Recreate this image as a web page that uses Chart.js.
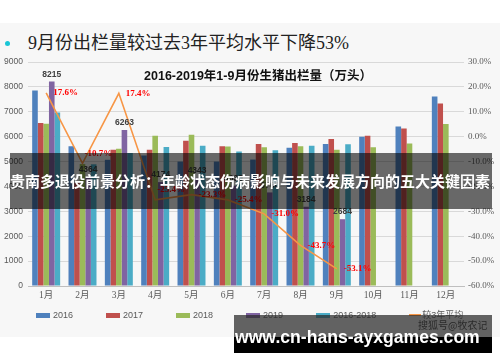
<!DOCTYPE html>
<html>
<head>
<meta charset="utf-8">
<script src="https://cdn.jsdelivr.net/npm/chart.js@4.4.1/dist/chart.umd.min.js"></script>
<style>
  body { margin: 0; width: 500px; height: 362px; overflow: hidden; background: #fff; position: relative; font-family: "Liberation Sans", "Noto Sans CJK SC", sans-serif; }
  .slide { position: absolute; left: 0; top: 23px; width: 500px; height: 314px; background: #f7f7f7; }
  .dot { position: absolute; left: 5px; top: 41px; width: 5px; height: 5px; border-radius: 50%; background: #19c6d6; }
  .head { position: absolute; left: 28px; top: 33px; font: 18px/20px "Liberation Serif", "Noto Sans CJK SC"; color: #222; white-space: nowrap; }
  .ctitle { position: absolute; left: 0; width: 516px; top: 68px; text-align: center; font: bold 12.5px/16px "Liberation Sans", "Noto Sans CJK SC"; color: #111; white-space: nowrap; }
  #chart { position: absolute; left: 0; top: 50px; }
  .legend { position: absolute; left: 36px; top: 309px; display: flex; font: 9px/12px "Liberation Sans", "Noto Sans CJK SC"; color: #595959; }
  .legend span.item { display: flex; align-items: center; margin-right: 33px; white-space: nowrap; }
  .legend i { display: inline-block; width: 14px; height: 5px; margin-right: 3px; }
  .legend i.ln { width: 12px; height: 2px; margin-right: 1px; }
  .band { position: absolute; left: 10px; top: 153px; width: 482px; height: 56px; background: rgba(0,0,0,0.58); color: #fff; font: bold 15px/56px "Noto Sans CJK SC"; white-space: nowrap; z-index: 5; }
  .wm1 { position: absolute; left: 234px; top: 315px; width: 258px; height: 22px; background: rgba(40,40,40,0.72); z-index: 5; }
  .wm2 { position: absolute; left: 234px; top: 337px; width: 258px; height: 16px; background: #000; z-index: 5; }
  .wmtxt { position: absolute; left: 235px; top: 327px; font: bold 17.6px/20px "Liberation Sans", sans-serif; color: #fff; z-index: 6; white-space: nowrap; }
  .sohu { position: absolute; left: 418px; top: 318px; font: 10px/14px "Noto Sans CJK SC"; color: rgba(20,20,20,0.75); z-index: 6; white-space: nowrap; }
</style>
</head>
<body>
<div class="slide"></div>
<div class="dot"></div>
<div class="head">9月份出栏量较过去3年平均水平下降53%</div>
<canvas id="chart" width="500" height="265"></canvas>
<div class="ctitle">2016-2019年1-9月份生猪出栏量（万头）</div>
<div class="legend" id="legend"></div>
<div class="band">贵南多退役前景分析：年龄状态伤病影响与未来发展方向的五大关键因素</div>
<div class="wm1"></div>
<div class="wm2"></div>
<div class="sohu">搜狐号@牧农记</div>
<div class="wmtxt">www.cn-hans-ayxgames.com</div>
<script>
// 万头
var months = ['1月', '2月', '3月', '4月', '5月', '6月', '7月', '8月', '9月', '10月', '11月', '12月'];
var s2016 = [7850, 5610, 5070, 5240, 5000, 5000, 5080, 5550, 5710, 6000, 6410, 7610];
var s2017 = [6550, 4150, 5470, 5470, 5840, 5610, 5710, 5750, 5910, 6040, 6330, 7330];
var s2018 = [6520, 4900, 5510, 6040, 6080, 5600, 5570, 5610, 5470, 5570, 5730, 6510];
var s2019 = [8215, 4364, 6263, 4174, 4343, 4030, 3760, 3184, 2684, null, null, null];
var avg3 = [6970, 4890, 5340, 5580, 5640, 5400, 5450, 5640, 5700, null, null, null];
// 2019 vs 3-year average, %
var change = [17.6, -10.7, 17.4, -25.4, -23.3, -25.4, -31.0, -43.7, -53.1, null, null, null];

var leftTicks = [0, 9000, 1000];
var rightTicks = [-60, 30, 10];

var seriesNames = ['2016', '2017', '2018', '2019', '2016-2018', '较3年平均'];
var colors = ['#4f81bd', '#c0504d', '#9bbb59', '#8064a2', '#4bacc6', '#f79646'];

function bar(i, d) {
  return { label: seriesNames[i], data: d, backgroundColor: colors[i], borderWidth: 0,
    yAxisID: 'y', order: 2, categoryPercentage: 0.77, barPercentage: 1.0 };
}

var labelPlugin = {
  id: 'labels',
  afterDatasetsDraw: function (chart) {
    var ctx = chart.ctx;
    ctx.save();
    // 2019 values above purple bars
    ctx.font = 'bold 8.5px "Liberation Sans"';
    ctx.fillStyle = '#404040';
    ctx.textAlign = 'center';
    ctx.textBaseline = 'bottom';
    chart.getDatasetMeta(3).data.forEach(function (b, i) {
      if (s2019[i] == null) return;
      ctx.fillText(String(s2019[i]), b.x, b.y - 3);
    });
    // change labels beside the line
    ctx.font = 'bold 9px "Liberation Serif"';
    ctx.fillStyle = '#ff0000';
    ctx.textAlign = 'left';
    ctx.textBaseline = 'middle';
    chart.getDatasetMeta(5).data.forEach(function (p, i) {
      var v = change[i];
      if (v == null) return;
      var txt = v.toFixed(1) + '%';
      var prev = change[i - 1], next = change[i + 1];
      if (prev != null && next != null && v < prev && v < next) {
        ctx.fillText(txt, p.x + 2, p.y - 10);
      } else {
        ctx.fillText(txt, p.x + 7, p.y);
      }
    });
    ctx.restore();
  }
};

new Chart(document.getElementById('chart'), {
  type: 'bar',
  data: {
    labels: months,
    datasets: [
      bar(0, s2016), bar(1, s2017), bar(2, s2018), bar(3, s2019), bar(4, avg3),
      { type: 'line', label: seriesNames[5], data: change, borderColor: colors[5], backgroundColor: colors[5],
        borderWidth: 1.6, pointRadius: 0, tension: 0, yAxisID: 'y1', order: 1 }
    ]
  },
  options: {
    responsive: false,
    animation: false,
    layout: { padding: { top: 12, left: 0, right: 0, bottom: 0 } },
    plugins: { legend: { display: false }, tooltip: { enabled: false }, title: { display: false } },
    scales: {
      x: {
        grid: { display: false, drawTicks: false },
        border: { color: '#bfbfbf' },
        ticks: { color: '#595959', padding: 4, font: { family: '"Liberation Serif", "Noto Sans CJK SC"', size: 9.5 } },
        afterFit: function (s) { s.height = 29; }
      },
      y: {
        position: 'left',
        min: leftTicks[0], max: leftTicks[1],
        ticks: { stepSize: leftTicks[2], color: '#595959', padding: 5, font: { family: '"Liberation Sans"', size: 8.5 },
          callback: function (v) { return String(v); } },
        grid: { color: '#d9d9d9', drawTicks: false },
        border: { display: false },
        afterFit: function (s) { s.width = 28; }
      },
      y1: {
        position: 'right',
        min: rightTicks[0], max: rightTicks[1],
        ticks: { stepSize: rightTicks[2], color: '#595959', padding: 4, font: { family: '"Liberation Serif"', size: 9 },
          callback: function (v) { return v.toFixed(1) + '%'; } },
        grid: { drawOnChartArea: false, drawTicks: false },
        border: { display: false },
        afterFit: function (s) { s.width = 36; }
      }
    }
  },
  plugins: [labelPlugin]
});

// legend
var lg = document.getElementById('legend');
seriesNames.forEach(function (n, i) {
  var it = document.createElement('span');
  it.className = 'item';
  var sw = document.createElement('i');
  if (i === 5) sw.className = 'ln';
  sw.style.background = colors[i];
  it.appendChild(sw);
  it.appendChild(document.createTextNode(n));
  lg.appendChild(it);
});
</script>
</body>
</html>
